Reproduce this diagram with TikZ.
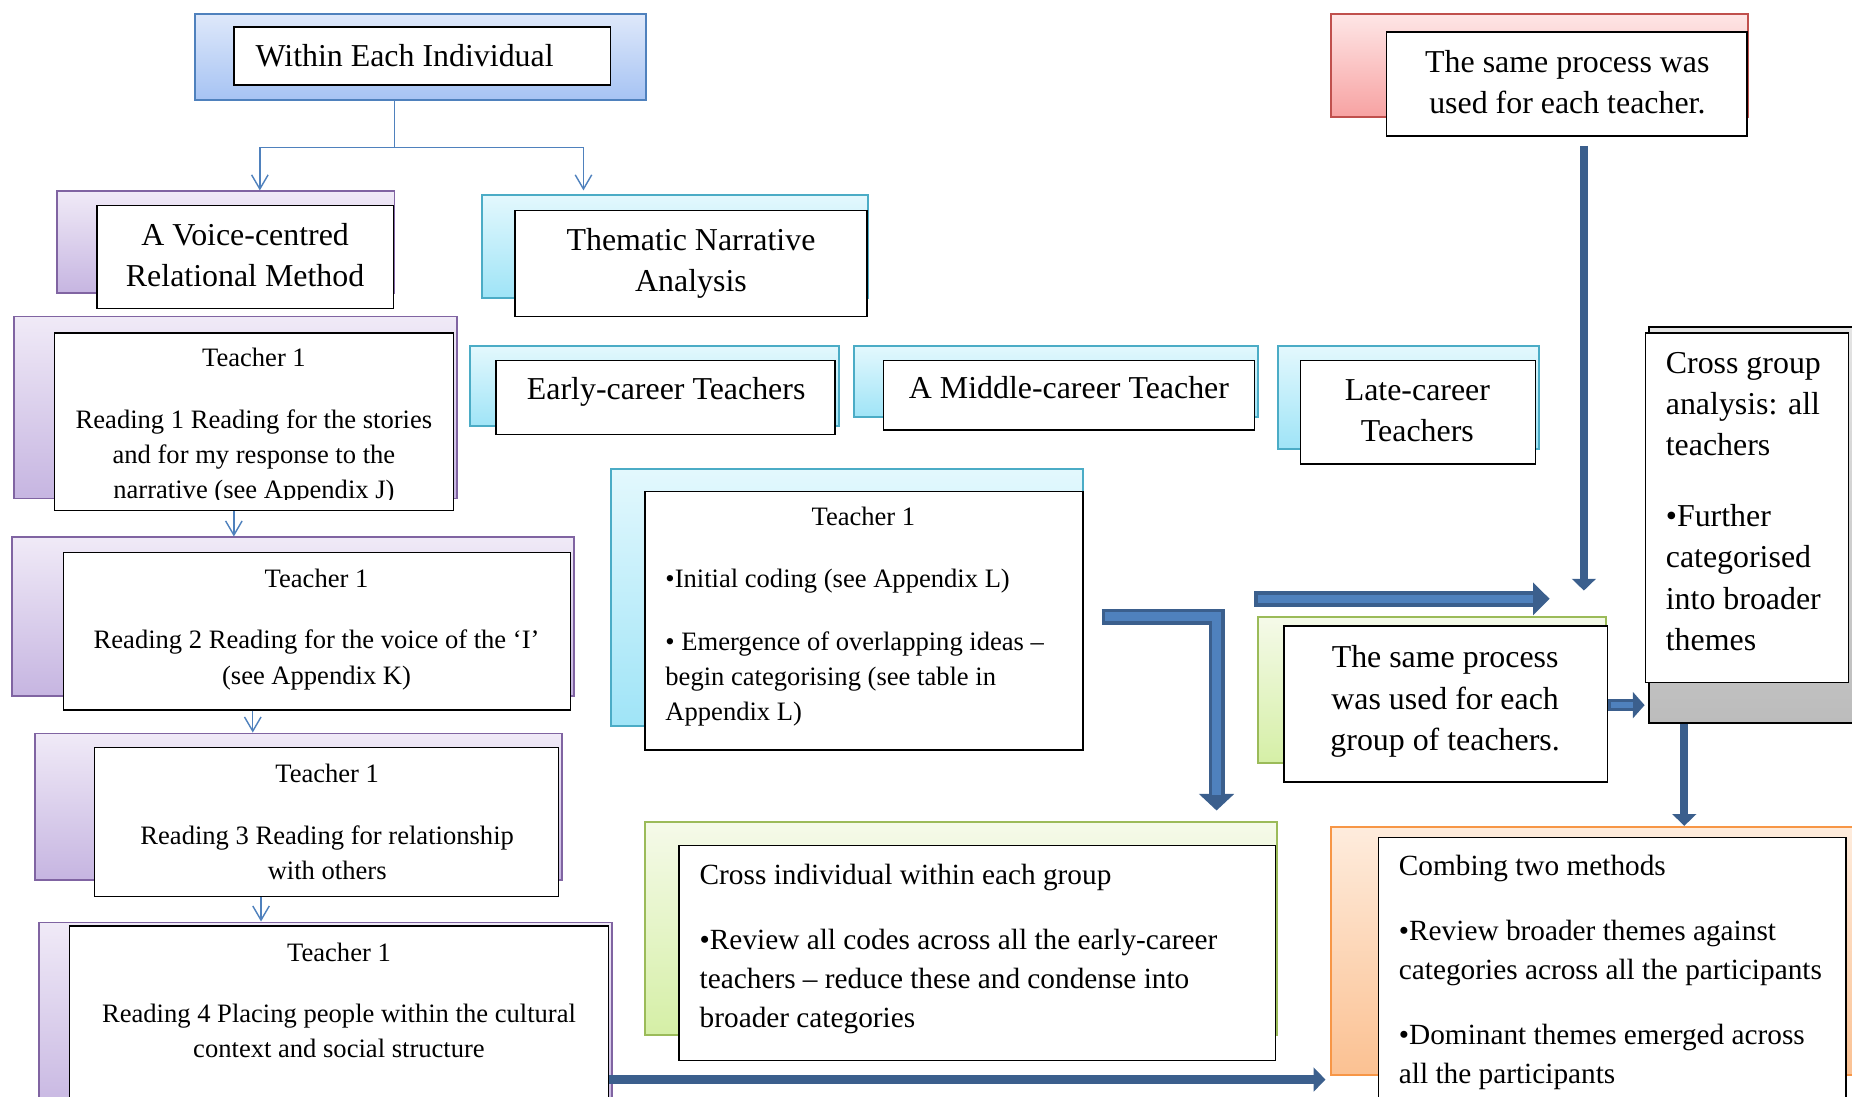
\documentclass[tikz,border=0pt]{standalone}
\usepackage{fontspec}
\setmainfont{Liberation Serif}
\usetikzlibrary{arrows.meta,fit,calc}
\definecolor{bluebd}{HTML}{4F81BD}\definecolor{bluetop}{HTML}{DEE8FA}\definecolor{bluebot}{HTML}{A6C3F3}
\definecolor{purpbd}{HTML}{8064A2}\definecolor{purptop}{HTML}{F0EAF7}\definecolor{purpbot}{HTML}{C6B5E1}
\definecolor{cyanbd}{HTML}{4BACC6}\definecolor{cyantop}{HTML}{E3F8FD}\definecolor{cyanbot}{HTML}{9FE4F7}
\definecolor{redbd}{HTML}{C0504D}\definecolor{redtop}{HTML}{FEE6E6}\definecolor{redbot}{HTML}{F7A2A2}
\definecolor{grnbd}{HTML}{9BBB59}\definecolor{grntop}{HTML}{F5FAE9}\definecolor{grnbot}{HTML}{D5EFA6}
\definecolor{orgbd}{HTML}{F79646}\definecolor{orgtop}{HTML}{FEECDD}\definecolor{orgbot}{HTML}{FBC192}
\definecolor{graybd}{HTML}{000000}\definecolor{graytop}{HTML}{E4E4E4}\definecolor{graybot}{HTML}{BCBCBC}
\definecolor{dkblue}{HTML}{3B5F8D}
\definecolor{mdblue}{HTML}{4F81BD}
\tikzset{
  bk/.style={draw=#1bd, top color=#1top, bottom color=#1bot, line width=0.8pt, inner sep=0pt},
  fr/.style={draw=black, fill=white, line width=0.6pt, inner sep=0pt},
  L/.style={font=\fontsize{13.5pt}{17.5pt}\selectfont, inner sep=0pt, align=center},
  M/.style={font=\fontsize{12.4pt}{16.5pt}\selectfont, inner sep=0pt, align=left, anchor=west},
  S/.style={font=\fontsize{11.25pt}{15pt}\selectfont, inner sep=0pt, align=center},
  conn/.style={draw=bluebd, line width=0.6pt, -{Straight Barb[length=6pt,width=7pt]}},
  dkarrow/.style={draw=dkblue, line width=3.5pt, -{Triangle[length=5pt,width=10pt]}},
}
\begin{document}
\begin{tikzpicture}[x=0.5pt,y=-0.5pt]
\useasboundingbox (0,0) rectangle (1568,928);

% Within Each Individual
\node[bk=blue, fit={(165,12)(547,85)}] (withinB) {};
\node[fr, fit={(198,23)(517,72)}] (withinF) {};
\node[L, anchor=west] (withinT) at (216,47.5) {Within Each Individual};

% A Voice-centred Relational Method
\node[bk=purp, fit={(48,162)(334,248)}] (voiceB) {};
\node[fr, fit={(82,174)(333,261)}] (voiceF) {};
\node[L] (voiceT) at (207.5,216) {A Voice-centred\\Relational Method};

% Thematic Narrative Analysis
\node[bk=cyan, fit={(408,165)(735,252)}] (themB) {};
\node[fr, fit={(436,178)(734,268)}] (themF) {};
\node[L] (themT) at (585,223) {Thematic Narrative\\Analysis};

% Reading 1
\node[bk=purp, fit={(12,268)(387,422)}] (r1B) {};
\node[fr, fit={(46,282)(384,432)}] (r1F) {};
\begin{scope}
\clip (46,282) rectangle (384,423);
\node[S] (r1T) at (215,361) {Teacher 1\\[11pt]Reading 1 Reading for the stories\\and for my response to the\\narrative (see Appendix J)};
\end{scope}

% Reading 2
\node[bk=purp, fit={(10,455)(486,589)}] (r2B) {};
\node[fr, fit={(54,468)(483,601)}] (r2F) {};
\node[S] (r2T) at (268,533) {Teacher 1\\[11pt]Reading 2 Reading for the voice of the ‘I’\\(see Appendix K)};

% Reading 3
\node[bk=purp, fit={(30,621)(476,745)}] (r3B) {};
\node[fr, fit={(80,633)(473,759)}] (r3F) {};
\node[S] (r3T) at (277,696) {Teacher 1\\[11pt]Reading 3 Reading for relationship\\with others};

% Reading 4
\node[bk=purp, fit={(33,781)(518,945)}] (r4B) {};
\node[fr, fit={(59,784)(515,945)}] (r4F) {};
\node[S] (r4T) at (287,847) {Teacher 1\\[11pt]Reading 4 Placing people within the cultural\\context and social structure};

% Early-career Teachers
\node[bk=cyan, fit={(398,293)(710,361)}] (earlyB) {};
\node[fr, fit={(420,305)(707,368)}] (earlyF) {};
\node[L] (earlyT) at (564,331.5) {Early-career Teachers};

% A Middle-career Teacher
\node[bk=cyan, fit={(723,293)(1065,353)}] (midB) {};
\node[fr, fit={(748,305)(1062,364)}] (midF) {};
\node[L] (midT) at (905,328.5) {A Middle-career Teacher};

% Late-career Teachers
\node[bk=cyan, fit={(1082,293)(1303,380)}] (lateB) {};
\node[fr, fit={(1101,305)(1300,393)}] (lateF) {};
\node[L] (lateT) at (1200,348) {Late-career\\Teachers};

% Teacher 1 (thematic)
\node[bk=cyan, fit={(517,397)(917,615)}] (t1B) {};
\node[fr, fit={(546,416)(917,635)}] (t1F) {};
\node[S] (t1T) at (731,437.5) {Teacher 1};
\node[S, align=left, anchor=west] (t1L) at (563,548.5) {•Initial coding (see Appendix L)\\[11.5pt]• Emergence of overlapping ideas –\\begin categorising (see table in\\Appendix L)};

% Cross individual within each group
\node[bk=grn, fit={(546,696)(1081,876)}] (crossB) {};
\node[fr, fit={(575,716)(1080,898)}] (crossF) {};
\node[M] (crossT) at (592,803.5) {Cross individual within each group\\[11pt]•Review all codes across all the early-career\\teachers – reduce these and condense into\\broader categories};

% The same process was used for each teacher.
\node[bk=red, fit={(1127,12)(1480,99)}] (redB) {};
\node[fr, fit={(1174,27)(1479,115)}] (redF) {};
\node[L] (redT) at (1327,69.5) {The same process was\\used for each teacher.};

% The same process was used for each group of teachers.
\node[bk=grn, fit={(1065,522)(1360,646)}] (sameB) {};
\node[fr, fit={(1087,530)(1361,662)}] (sameF) {};
\node[L] (sameT) at (1223.5,594) {The same process\\was used for each\\group of teachers.};

% Cross group analysis
\node[bk=gray, fit={(1396,277)(1600,612)}] (cgB) {};
\node[fr, fit={(1393,282)(1565,578)}] (cgF) {};
\node[L, align=left, anchor=west] (cgT) at (1410,424.5) {Cross group\\analysis: all\\teachers\\[12.5pt]•Further\\categorised\\into broader\\themes};

% Combing two methods
\node[bk=org, fit={(1127,700)(1600,910)}] (combB) {};
\node[fr, fit={(1167,709)(1563,945)}] (combF) {};
\node[M] (combT) at (1184,823) {Combing two methods\\[11pt]•Review broader themes against\\categories across all the participants\\[11pt]•Dominant themes emerged across\\all the participants};

% ---- connectors ----
\coordinate (j) at (334,125);
\coordinate (ja) at (220,125);
\coordinate (jb) at (494,125);
\draw[draw=bluebd, line width=0.6pt] (withinB.south -| j) -- (j);
\draw[conn] (j) -- (ja) -- (voiceB.north -| ja);
\draw[conn] (j) -- (jb) -- ([yshift=1.5pt]themB.north -| jb);

\coordinate (x1) at (198,0);
\coordinate (x2) at (214,0);
\coordinate (x3) at (221,0);
\draw[conn] (r1F.south -| x1) -- (r2B.north -| x1);
\draw[conn] (r2F.south -| x2) -- (r3B.north -| x2);
\draw[conn] (r3F.south -| x3) -- (r4B.north -| x3);

% dark arrows
\coordinate (vx) at (1341,500);
\draw[dkarrow] ($(redF.south -| vx)+(0,8)$) -- (vx);
\coordinate (hbot) at (0,914);
\draw[dkarrow, shorten >=2pt] (r4F.east |- hbot) -- (combB.west |- hbot);
\coordinate (cx) at (1426,0);
\draw[dkarrow] (cgB.south -| cx) -- (combB.north -| cx);

% block arrows
\coordinate (lc) at (1030,522);
\draw[draw=dkblue, line width=6.75pt, line join=miter, -{Triangle[length=7pt,width=14.5pt]}, shorten >=4.5pt] ($(t1F.east |- lc)+(15,0)$) -- (lc) -- (crossB.north -| lc);
\draw[draw=mdblue, line width=3.8pt, line join=miter, shorten >=11pt, shorten <=1.5pt] ($(t1F.east |- lc)+(15,0)$) -- (lc) -- (crossB.north -| lc);

\coordinate (ha) at (1062,507);
\coordinate (hb) at (1312,507);
\draw[draw=dkblue, line width=6.5pt, -{Triangle[length=7pt,width=13.5pt]}] (ha) -- (hb);
\draw[draw=mdblue, line width=3.6pt, shorten >=7pt, shorten <=1.5pt] (ha) -- (hb);

\coordinate (sa) at (0,597);
\draw[draw=dkblue, line width=5pt, -{Triangle[length=5pt,width=11pt]}] (sameF.east |- sa) -- (cgF.west |- sa);
\draw[draw=mdblue, line width=2.4pt, shorten >=5pt, shorten <=1pt] (sameF.east |- sa) -- (cgF.west |- sa);
\end{tikzpicture}
\end{document}
